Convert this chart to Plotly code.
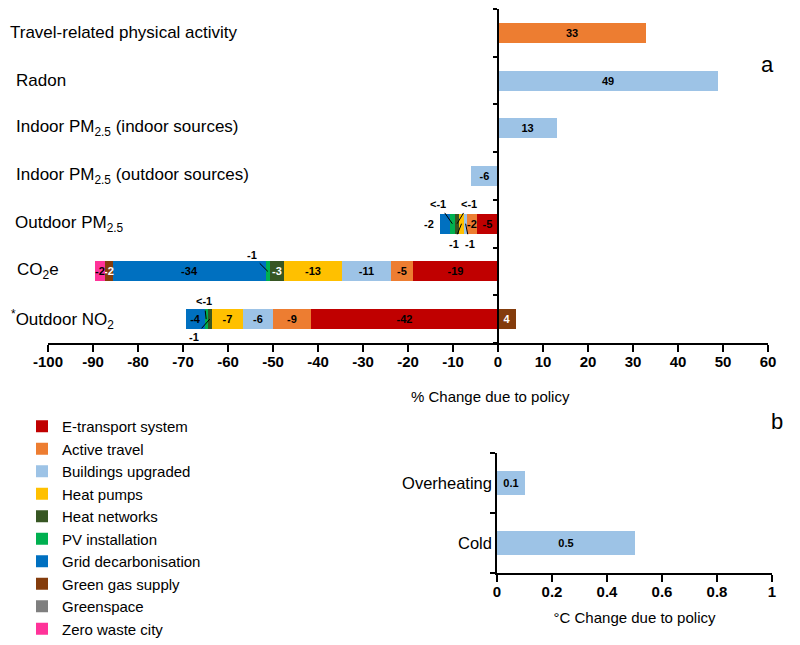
import plotly.graph_objects as go

# Panel a rows, bottom to top
rows = ["NO2", "CO2e", "PM_out", "PM_in_out", "PM_in_in", "Radon", "Travel"]
row_labels = ["<sup>*</sup>Outdoor NO<sub>2</sub>", "CO<sub>2</sub>e", "Outdoor PM<sub>2.5</sub>",
              "Indoor PM<sub>2.5</sub> (outdoor sources)", "Indoor PM<sub>2.5</sub> (indoor sources)",
              "Radon", "Travel-related physical activity"]

policies = ["E-transport system", "Active travel", "Buildings upgraded", "Heat pumps",
            "Heat networks", "PV installation", "Grid decarbonisation", "Green gas supply",
            "Greenspace", "Zero waste city"]
colors = ["#C00000", "#ED7D31", "#9DC3E6", "#FFC000", "#375623", "#00B050",
          "#0070C0", "#843C0C", "#7F7F7F", "#FF3399"]
text_colors = ["black", "black", "black", "black", "white", "black",
               "black", "white", "black", "black"]

# % change per policy, one value per row (None = no contribution)
e_transport = [-41.6, -18.9, -4.6, None, None, None, None]
active_travel = [-8.4, -4.9, -2.2, None, None, None, 32.9]
buildings = [-6.7, -10.9, -0.8, -6.1, 13.1, 48.9, None]
heat_pumps = [-6.9, -12.9, -1.0, None, None, None, None]
heat_networks = [-0.9, -3.1, -1.0, None, None, None, None]
pv = [-0.7, -0.9, -1.1, None, None, None, None]
grid = [-4.2, -34.0, -2.2, None, None, None, None]
green_gas = [4.0, -1.8, None, None, None, None, None]
greenspace = [None, None, None, None, None, None, None]
zero_waste = [None, -2.2, None, None, None, None, None]
values = [e_transport, active_travel, buildings, heat_pumps, heat_networks,
          pv, grid, green_gas, greenspace, zero_waste]

# labels written inside the bars (None = none / shown by a callout)
lab_e_transport = ["-42", "-19", "-5", None, None, None, None]
lab_active_travel = ["-9", "-5", "-2", None, None, None, "33"]
lab_buildings = ["-6", "-11", None, "-6", "13", "49", None]
lab_heat_pumps = ["-7", "-13", None, None, None, None, None]
lab_heat_networks = [None, "-3", None, None, None, None, None]
lab_pv = [None] * 7
lab_grid = ["-4", "-34", None, None, None, None, None]
lab_green_gas = ["4", "-2", None, None, None, None, None]
lab_greenspace = [None] * 7
lab_zero_waste = [None, "-2", None, None, None, None, None]
labels = [lab_e_transport, lab_active_travel, lab_buildings, lab_heat_pumps, lab_heat_networks,
          lab_pv, lab_grid, lab_green_gas, lab_greenspace, lab_zero_waste]

# callouts for thin segments: (row, policy index, text, dx, dy); dy == 0 -> text beside the bar
callouts = [("PM_out", 5, "<-1", -14, -20), ("PM_out", 4, "<-1", 12, -20),
            ("PM_out", 3, "-1", -8, 20), ("PM_out", 2, "-1", 4, 20),
            ("PM_out", 6, "-2", -19, 0),
            ("CO2e", 5, "-1", -16, -16),
            ("NO2", 5, "<-1", -2, -18), ("NO2", 4, "-1", -16, 18)]

x_ticks = [-100, -90, -80, -70, -60, -50, -40, -30, -20, -10, 0, 10, 20, 30, 40, 50, 60]
x_ticktext = ["-100", "-90", "-80", "-70", "-60", "-50", "-40", "-30", "-20", "-10",
              "0", "10", "20", "30", "40", "50", "60"]

# Panel b
b_rows = ["Cold", "Overheating"]
b_values = [0.5, 0.1]
b_labels = ["0.5", "0.1"]

# the page has an 8 px body margin, so the figure is a bit smaller than the window
W, H = 792, 637


def fx(px):
    return (px - 8) / W


def fy(py):
    return 1 - (py - 8) / H


ax_dom = [fx(48), fx(768)]
ay_dom = [fy(343), fy(9)]
bx_dom = [fx(497), fx(772)]
by_dom = [fy(573), fy(453)]
xa_range = [-100, 60]

fig = go.Figure()

for i, name in enumerate(policies):
    fig.add_trace(go.Bar(
        y=rows, x=values[i], orientation="h", name=name,
        marker=dict(color=colors[i], line=dict(width=0)),
        text=labels[i], textposition="inside", insidetextanchor="middle",
        constraintext="none", textangle=0,
        textfont=dict(size=11, color=text_colors[i], family="Arial", weight="bold"),
        width=0.42, xaxis="x", yaxis="y", hoverinfo="skip"))

fig.add_trace(go.Bar(
    y=b_rows, x=b_values, orientation="h", name="Buildings upgraded", showlegend=False,
    marker=dict(color=colors[2], line=dict(width=0)),
    text=b_labels, textposition="inside", insidetextanchor="middle",
    constraintext="none", textangle=0,
    textfont=dict(size=11, color="black", family="Arial", weight="bold"),
    width=0.4, xaxis="x2", yaxis="y2", hoverinfo="skip"))

annotations = []
# callouts, placed at the middle of their segment
for row, p, txt, dx, dy in callouts:
    r = rows.index(row)
    start = 0
    for k in range(p):
        v = values[k][r]
        if v is not None and v < 0:
            start += v
    mid = start + values[p][r] / 2
    if dy == 0:
        annotations.append(dict(
            x=start + values[p][r], y=row, xref="x", yref="y", text="<b>" + txt + "</b>",
            showarrow=False, xanchor="right", xshift=-4,
            font=dict(size=11, color="black", family="Arial")))
    else:
        annotations.append(dict(
            x=mid, y=row, xref="x", yref="y", text="<b>" + txt + "</b>",
            showarrow=True, arrowhead=0, arrowwidth=1, arrowcolor="black",
            ax=dx, ay=dy, standoff=0, startstandoff=2,
            font=dict(size=11, color="black", family="Arial")))

# left-hand row labels of panel a
label_x = [9, 15, 13, 14, 14, 14, 8]
for r, lab in enumerate(row_labels):
    yr = ay_dom[0] + (r + 0.5) / len(rows) * (ay_dom[1] - ay_dom[0])
    annotations.append(dict(
        x=fx(label_x[r]), y=yr, xref="paper", yref="paper", text=lab, showarrow=False,
        xanchor="left", yanchor="middle", font=dict(size=17, color="black", family="Arial")))

annotations += [
    dict(x=fx(490), y=fy(396), xref="paper", yref="paper", text="% Change due to policy",
         showarrow=False, font=dict(size=15, color="black", family="Arial")),
    dict(x=fx(776), y=fy(50), xref="paper", yref="paper", text="a",
         showarrow=False, font=dict(size=22, color="black", family="Arial")),
    dict(x=fx(785), y=fy(421), xref="paper", yref="paper", text="b",
         showarrow=False, font=dict(size=22, color="black", family="Arial")),
]

ya_pos = ax_dom[0] + (0 - xa_range[0]) / (xa_range[1] - xa_range[0]) * (ax_dom[1] - ax_dom[0])

fig.update_layout(
    width=W, height=H, margin=dict(l=0, r=0, t=0, b=0, autoexpand=False),
    paper_bgcolor="white", plot_bgcolor="white",
    barmode="relative", bargap=0,
    font=dict(family="Arial", color="black"),
    xaxis=dict(domain=ax_dom, range=xa_range, tickvals=x_ticks, ticktext=x_ticktext,
               anchor="y", automargin=False,
               showline=True, linecolor="black", linewidth=1.5,
               ticks="outside", ticklen=7, tickcolor="black", tickwidth=1.5,
               ticklabelstandoff=-3,
               showgrid=False, zeroline=False,
               tickfont=dict(size=15, family="Arial", weight="bold")),
    yaxis=dict(domain=ay_dom, type="category", categoryorder="array", categoryarray=rows,
               range=[-0.5, len(rows) - 0.5], anchor="free", position=ya_pos, automargin=False,
               showline=True, linecolor="black", linewidth=1.5,
               ticks="outside", ticklen=4, tickcolor="black", tickwidth=1.5,
               tickson="boundaries", showticklabels=False, showgrid=False),
    xaxis2=dict(domain=bx_dom, range=[0, 1], dtick=0.2, anchor="y2", automargin=False,
                showline=True, linecolor="black", linewidth=1.5,
                ticks="outside", ticklen=7, tickcolor="black", tickwidth=1.5,
                ticklabelstandoff=-3,
                showgrid=False, zeroline=False,
                tickfont=dict(size=15, family="Arial", weight="bold"),
                title=dict(text="°C Change due to policy", font=dict(size=15), standoff=14)),
    yaxis2=dict(domain=by_dom, type="category", categoryorder="array", categoryarray=b_rows,
                range=[-0.5, 1.5], anchor="x2", automargin=False,
                showline=True, linecolor="black", linewidth=1.5,
                ticks="outside", ticklen=5, tickcolor="black", tickwidth=1.5,
                tickson="boundaries", showgrid=False,
                tickfont=dict(size=16.5, family="Arial")),
    legend=dict(x=fx(22), y=fy(410), xanchor="left", yanchor="top",
                font=dict(size=15, family="Arial"), bgcolor="rgba(0,0,0,0)",
                traceorder="normal", itemclick=False),
    annotations=annotations,
)

fig.write_html("out.html")
